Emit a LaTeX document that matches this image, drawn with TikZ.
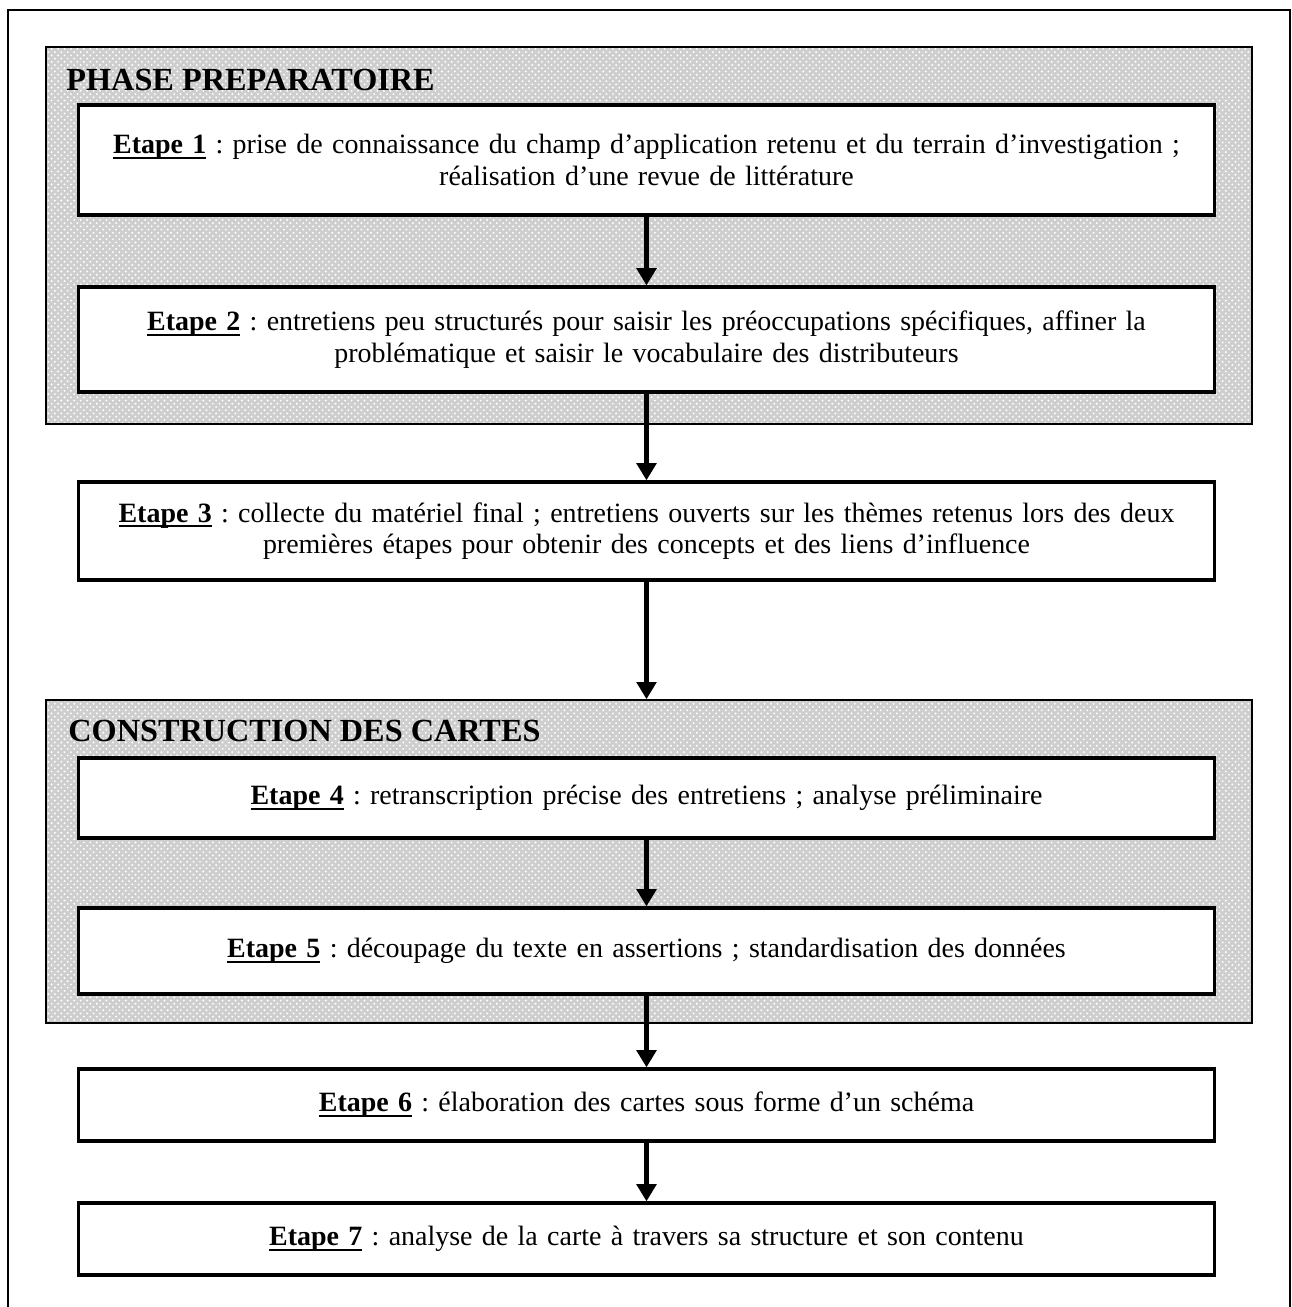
\documentclass[tikz,border=0pt]{standalone}
\usepackage{fontspec}
\setmainfont{Liberation Serif}
\definecolor{phasegray}{RGB}{206,206,206}
\usetikzlibrary{arrows.meta, patterns}
\newcommand{\etapelabel}[1]{\textbf{\setbox0\hbox{Etape #1}\rlap{\rule[-2.4pt]{\wd0}{0.9pt}}\box0}}

\begin{document}
\begin{tikzpicture}[x=0.465pt, y=-0.465pt,
  etape/.style={draw, line width=1.5pt, fill=white, minimum width=528pt, text width=524pt, align=center, inner sep=0pt, font=\fontsize{13}{14.6}\selectfont\frenchspacing},
  phase/.style={draw, line width=0.7pt, preaction={fill=phasegray}, pattern=crosshatch dots, pattern color=white, minimum width=561pt, inner sep=0pt},
  phasetitle/.style={anchor=west, inner sep=0pt, font=\fontsize{15}{17}\selectfont\bfseries},
  flow/.style={line width=2pt, -{Triangle[width=9pt, length=8pt]}}]
  \useasboundingbox (0,0) rectangle (1291,1307);
  % outer frame
  \draw[line width=0.6pt] (8,1310) -- (8,10) -- (1290,10) -- (1290,1310);

  % phases
  \node[phase, minimum height=175.3pt] (phase1) at (649,235.5) {};
  \node[phase, minimum height=150.2pt] (phase2) at (649,861.5) {};
  \node[phasetitle] (title1) at (66,80) {PHASE PREPARATOIRE};
  \node[phasetitle] (title2) at (68,731) {CONSTRUCTION DES CARTES};

  % etapes
  \node[etape, minimum height=51.2pt] (e1) at (646.5,160) {\etapelabel{1} : prise de connaissance du champ d’application retenu et du terrain d’investigation ;\\ réalisation d’une revue de littérature};
  \node[etape, minimum height=48.8pt] (e2) at (646.5,339.5) {\etapelabel{2} : entretiens peu structurés pour saisir les préoccupations spécifiques, affiner la\\ problématique et saisir le vocabulaire des distributeurs};
  \node[etape, minimum height=45.6pt] (e3) at (646.5,531) {\etapelabel{3} : collecte du matériel final ; entretiens ouverts sur les thèmes retenus lors des deux\\ premières étapes pour obtenir des concepts et des liens d’influence};
  \node[etape, minimum height=37.2pt] (e4) at (646.5,798) {\etapelabel{4} : retranscription précise des entretiens ; analyse préliminaire};
  \node[etape, minimum height=40pt] (e5) at (646.5,951) {\etapelabel{5} : découpage du texte en assertions ; standardisation des données};
  \node[etape, minimum height=33.5pt] (e6) at (646.5,1105) {\etapelabel{6} : élaboration des cartes sous forme d’un schéma};
  \node[etape, minimum height=33.5pt] (e7) at (646.5,1239) {\etapelabel{7} : analyse de la carte à travers sa structure et son contenu};

  % arrows
  \draw[flow] (e1) -- (e2);
  \draw[flow] (e2) -- (e3);
  \draw[flow] (e3.south) -- (e3.south |- phase2.north);
  \draw[flow] (e4) -- (e5);
  \draw[flow] (e5) -- (e6);
  \draw[flow] (e6) -- (e7);
\end{tikzpicture}
\end{document}
